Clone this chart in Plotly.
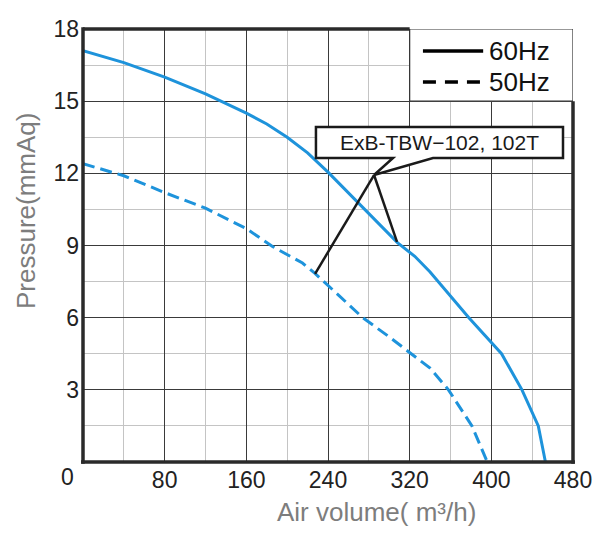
import plotly.graph_objects as go

# 60Hz curve (solid)
air_60 = [0, 40, 80, 120, 160, 180, 200, 220, 240, 260, 280, 300, 308, 325, 340, 378, 410, 430, 446, 453]
pres_60 = [17.1, 16.6, 16.0, 15.3, 14.5, 14.05, 13.5, 12.85, 12.05, 11.2, 10.35, 9.5, 9.12, 8.55, 7.9, 6.0, 4.5, 3.0, 1.5, 0]

# 50Hz curve (dashed)
air_50 = [0, 40, 80, 120, 160, 186, 215, 227, 250, 274, 300, 322, 340, 358, 381, 396]
pres_50 = [12.4, 11.9, 11.2, 10.55, 9.7, 8.95, 8.27, 7.85, 6.95, 6.0, 5.2, 4.5, 3.9, 3.0, 1.5, 0]

x_ticks = [80, 160, 240, 320, 400, 480]
y_ticks = [3, 6, 9, 12, 15, 18]
legend_names = ["60Hz", "50Hz"]
model_label = "ExB-TBW\u2212102, 102T"

blue = "#1e93db"
ink = "#1a1a1a"
frame = dict(color="#2a2a2a", width=3.5)
tick_font = dict(family="Liberation Sans, Arial, sans-serif", size=23, color="#222")
title_font = dict(family="Liberation Sans, Arial, sans-serif", size=26, color="#7d7d7d")

fig = go.Figure()
fig.add_trace(go.Scatter(x=air_60, y=pres_60, mode="lines", name=legend_names[0],
                         showlegend=False, line=dict(color=blue, width=3)))
fig.add_trace(go.Scatter(x=air_50, y=pres_50, mode="lines", name=legend_names[1],
                         showlegend=False, line=dict(color=blue, width=3, dash="12px,6px")))

# legend box (white, covers the grid in the top right corner)
fig.add_shape(type="rect", x0=320, x1=480, y0=15, y1=18, layer="between",
              fillcolor="white", line=dict(color="#333", width=1.2))
# legend keys drawn black like the printed chart
fig.add_shape(type="line", x0=333, x1=392, y0=17.09, y1=17.09, line=dict(color="black", width=3.5))
fig.add_shape(type="line", x0=333, x1=392, y0=15.8, y1=15.8,
              line=dict(color="black", width=3.5, dash="13px,9px"))
for name, yy in zip(legend_names, [17.09, 15.8]):
    fig.add_annotation(x=396, y=yy, text=name, showarrow=False, xanchor="left",
                       font=dict(family="Liberation Sans, Arial, sans-serif", size=26, color="#111"))

# thick frame (paper refs so it is not clipped); thin where the legend box sits
fig.add_shape(type="line", xref="paper", yref="paper", x0=0, x1=0, y0=-0.004, y1=1.004, line=frame)
fig.add_shape(type="line", xref="paper", yref="paper", x0=-0.004, x1=1.004, y0=0, y1=0, line=frame)
fig.add_shape(type="line", xref="paper", yref="paper", x0=0, x1=320 / 480, y0=1, y1=1, line=frame)
fig.add_shape(type="line", xref="paper", yref="paper", x0=1, x1=1, y0=-0.004, y1=15 / 18, line=frame)

# callout box with pointer
fig.add_shape(type="path", layer="above", fillcolor="white", line=dict(color=ink, width=2.5),
              path="M228.2,12.64 L228.2,13.93 L470.2,13.93 L470.2,12.64 L342.9,12.64 "
                   "L285.1,11.93 L303.7,12.64 Z")
fig.add_shape(type="line", x0=285.1, y0=11.93, x1=307.6, y1=9.15, layer="above",
              line=dict(color=ink, width=2.5))
fig.add_shape(type="line", x0=285.1, y0=11.93, x1=227.3, y1=7.82, layer="above",
              line=dict(color=ink, width=2.5))
fig.add_annotation(x=349.2, y=13.29, text=model_label, showarrow=False,
                   font=dict(family="Liberation Sans, Arial, sans-serif", size=21, color=ink))

# origin label shared by both axes
fig.add_annotation(x=0, y=0, text="0", showarrow=False, xanchor="right", yanchor="top",
                   xshift=-7, yshift=0, font=tick_font)

# axis titles
fig.add_annotation(xref="paper", yref="paper", x=0.598, y=-0.115, xanchor="center",
                   yanchor="middle", text="Air volume( m\u00b3/h)", showarrow=False, font=title_font)
fig.add_annotation(xref="paper", yref="paper", x=-0.116, y=0.58, xanchor="center",
                   yanchor="middle", textangle=-90, text="Pressure(mmAq)", showarrow=False,
                   font=title_font)

fig.update_xaxes(range=[0, 480], tickvals=x_ticks, showgrid=True, gridcolor="#3a3a3a",
                 gridwidth=1, minor=dict(dtick=40, showgrid=True, gridcolor="#c4c4c4", gridwidth=1),
                 showline=False, zeroline=False,
                 ticks="", ticklabelstandoff=2, tickfont=tick_font, automargin=False)
fig.update_yaxes(range=[0, 18], tickvals=y_ticks, showgrid=True, gridcolor="#3a3a3a",
                 gridwidth=1, minor=dict(dtick=1.5, showgrid=True, gridcolor="#c4c4c4", gridwidth=1),
                 showline=False, zeroline=False,
                 ticks="", ticklabelstandoff=3, tickfont=tick_font, automargin=False)

# the page adds an 8px body margin, so the figure is 8px smaller on each side
fig.update_layout(
    width=602, height=534,
    margin=dict(l=75, r=37, t=21, b=80, autoexpand=False),
    plot_bgcolor="white", paper_bgcolor="white",
    showlegend=False,
)

fig.write_html("out.html")
